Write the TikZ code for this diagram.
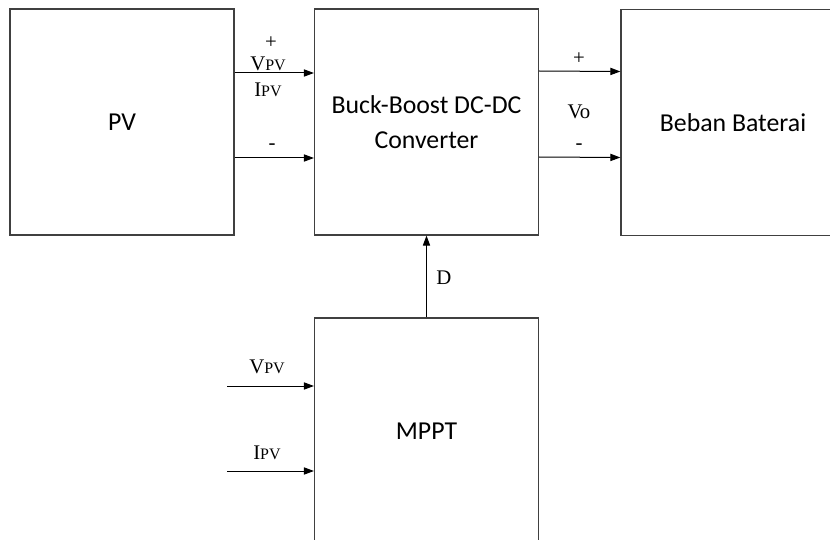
\documentclass[tikz,border=0pt]{standalone}
\usepackage{fontspec}
\setmainfont{Liberation Serif}
\newfontfamily\boxfont{Carlito}
\usetikzlibrary{arrows.meta,calc}
\newcommand{\subcaps}[1]{{\fontsize{8}{9}\selectfont #1}}

\begin{document}
\begin{tikzpicture}[
    x=0.5pt, y=-0.5pt,
    block/.style={draw=black!75, line width=0.6pt, minimum width=112pt, minimum height=113pt, inner sep=0pt, align=center, font=\boxfont\fontsize{12.9}{17.5}\selectfont},
    signal/.style={inner sep=0pt, font=\fontsize{10.4}{12}\selectfont},
    directed/.style={-{Triangle[length=5pt,width=3.6pt]}, line width=0.5pt}
]
    \clip (0,0) rectangle (830,540);
    \node[block] (PV) at (122,122) {PV};
    \node[block] (Conv) at (426.5,122) {Buck-Boost DC-DC\\Converter};
    \node[block] (Beban) at (733,122.5) {Beban Baterai};
    \node[block] (MPPT) at (426.5,431) {MPPT};
    \coordinate (inV) at (227,386);
    \coordinate (inI) at (227,471);
    \draw [directed] ($(PV.east)+(0,-49)$) -- ($(Conv.west)+(0,-49)$);
    \draw [directed] ($(PV.east)+(0,36)$) -- ($(Conv.west)+(0,36)$);
    \draw [directed] ($(Conv.east)+(0,-51)$) -- ($(Beban.west)+(0,-51)$);
    \draw [directed] ($(Conv.east)+(0,35)$) -- ($(Beban.west)+(0,35)$);
    \draw [directed] (MPPT.north) -- (Conv.south);
    \draw [directed] (inV) -- (inV -| MPPT.west);
    \draw [directed] (inI) -- (inI -| MPPT.west);
    \node[signal] (plusPV) at (271,43) {+};
    \node[signal] (Vpv) at (268,64) {V\subcaps{PV}};
    \node[signal] (Ipv) at (268,90) {I\subcaps{PV}};
    \node[signal] (minPV) at (272,147) {-};
    \node[signal] (plusO) at (579,59) {+};
    \node[signal] (Vo) at (579,112) {Vo};
    \node[signal] (minO) at (579,147) {-};
    \node[signal] (D) at (444,278) {D};
    \node[signal] (VpvM) at (267,367) {V\subcaps{PV}};
    \node[signal] (IpvM) at (267,453) {I\subcaps{PV}};
\end{tikzpicture}
\end{document}
